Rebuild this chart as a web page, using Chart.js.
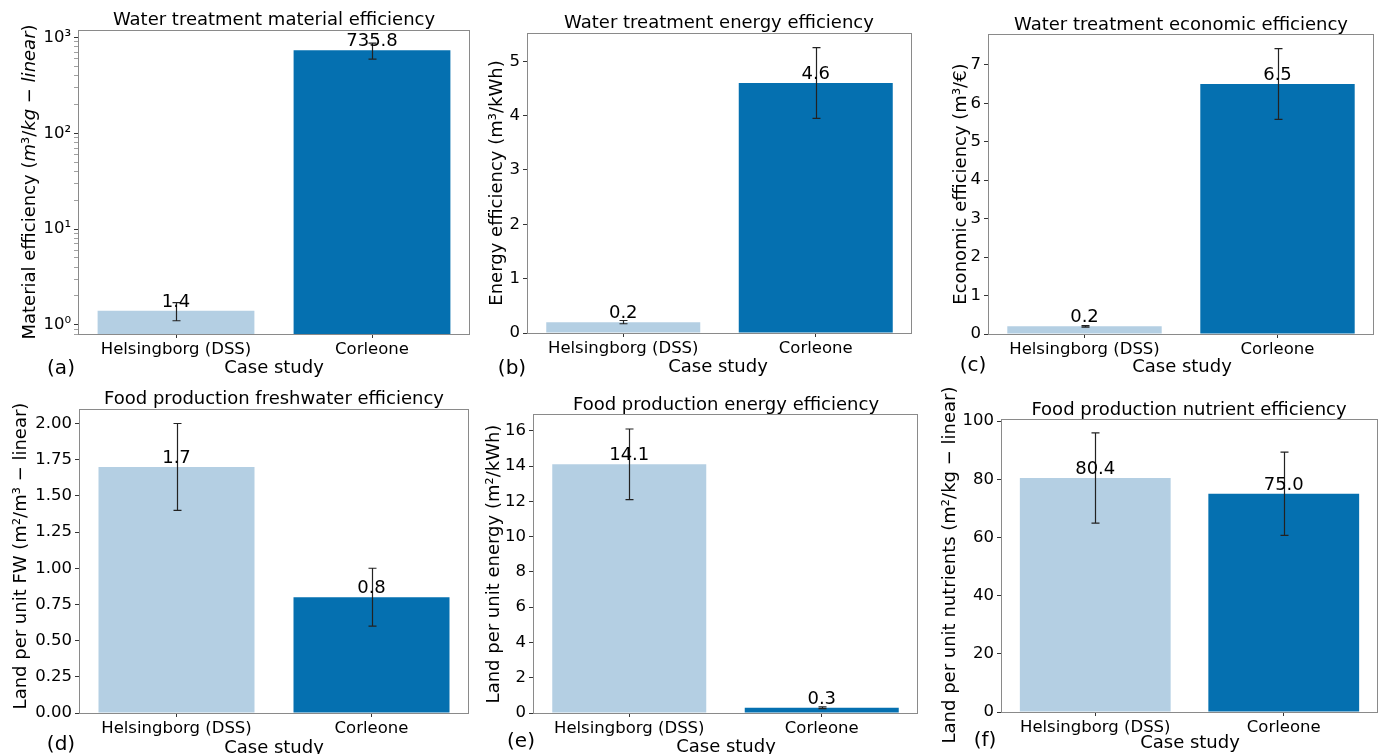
<!DOCTYPE html>
<html>
<head>
<meta charset="utf-8">
<script src="https://cdn.jsdelivr.net/npm/chart.js@4.4.1/dist/chart.umd.min.js"></script>
<style>
  html, body { margin: 0; padding: 0; background: #ffffff; }
  body { width: 1386px; height: 754px; position: relative; overflow: hidden; }
  canvas { position: absolute; }
</style>
</head>
<body>
<canvas id="panelA"></canvas>
<canvas id="panelB"></canvas>
<canvas id="panelC"></canvas>
<canvas id="panelD"></canvas>
<canvas id="panelE"></canvas>
<canvas id="panelF"></canvas>
<script>
// ---- data ----
const caseStudies = ['Helsingborg (DSS)', 'Corleone'];

const materialEfficiency = [1.4, 735.8];
const materialError = [0.3, 140];
const materialTicks = [1, 10, 100, 1000];

const energyEfficiency = [0.2, 4.6];
const energyError = [0.03, 0.65];
const energyTicks = [0, 1, 2, 3, 4, 5];

const economicEfficiency = [0.2, 6.5];
const economicError = [0.02, 0.92];
const economicTicks = [0, 1, 2, 3, 4, 5, 6, 7];

const freshwaterLand = [1.7, 0.8];
const freshwaterError = [0.3, 0.2];
const freshwaterTicks = [0, 0.25, 0.5, 0.75, 1.0, 1.25, 1.5, 1.75, 2.0];

const foodEnergyLand = [14.1, 0.3];
const foodEnergyError = [2.0, 0.05];
const foodEnergyTicks = [0, 2, 4, 6, 8, 10, 12, 14, 16];

const nutrientLand = [80.4, 75.0];
const nutrientError = [15.5, 14.3];
const nutrientTicks = [0, 20, 40, 60, 80, 100];

const barColors = ['#b4cfe3', '#0570b0'];
const FONT = "'DejaVu Sans', sans-serif";

// ---- helpers ----
const SUP = { '0': '\u2070', '1': '\u00b9', '2': '\u00b2', '3': '\u00b3' };
function powerLabel(v) {
  const e = Math.round(Math.log10(v));
  return '10' + String(e).split('').map(c => SUP[c]).join('');
}
function isPowerOfTen(v) {
  const e = Math.log10(v);
  return Math.abs(e - Math.round(e)) < 1e-9;
}
// minor ticks of a log axis: 2..9 times each decade inside the range
function logMinorTicks(lo, hi) {
  const out = [];
  for (let d = Math.floor(Math.log10(lo)); d <= Math.ceil(Math.log10(hi)); d++) {
    for (let m = 2; m <= 9; m++) {
      const v = m * Math.pow(10, d);
      if (v >= lo && v <= hi) out.push(v);
    }
  }
  return out;
}

// frame, error bars, value labels, titles and panel letters
const panelDecor = {
  id: 'panelDecor',
  afterDatasetsDraw(chart, args, opts) {
    const ctx = chart.ctx;
    const area = chart.chartArea;
    const ys = chart.scales.y;
    const ox = opts.ox, oy = opts.oy;
    const ds = chart.data.datasets[0];
    const meta = chart.getDatasetMeta(0);

    ctx.save();
    // axes frame
    ctx.strokeStyle = '#8a8a8a';
    ctx.lineWidth = 1;
    ctx.strokeRect(Math.round(area.left) + 0.5, Math.round(area.top) + 0.5,
                   Math.round(area.right - area.left) - 1, Math.round(area.bottom - area.top));

    // error bars
    ctx.strokeStyle = '#222222';
    ctx.lineWidth = 1.2;
    meta.data.forEach((bar, i) => {
      const v = ds.data[i], e = opts.errors[i];
      const yLo = ys.getPixelForValue(v - e);
      const yHi = ys.getPixelForValue(v + e);
      const x = Math.round(bar.x) + 0.5;
      ctx.beginPath();
      ctx.moveTo(x, yLo); ctx.lineTo(x, yHi);
      ctx.moveTo(x - 4, yLo); ctx.lineTo(x + 4, yLo);
      ctx.moveTo(x - 4, yHi); ctx.lineTo(x + 4, yHi);
      ctx.stroke();
    });

    // value labels
    ctx.fillStyle = '#000000';
    ctx.font = '18px ' + FONT;
    ctx.textAlign = 'center';
    ctx.textBaseline = 'alphabetic';
    meta.data.forEach((bar, i) => {
      ctx.fillText(ds.data[i].toFixed(1), bar.x, bar.y - 4);
    });

    // chart title
    ctx.textBaseline = 'middle';
    ctx.font = '18px ' + FONT;
    ctx.fillText(opts.title, opts.titlePos[0] - ox, opts.titlePos[1] - oy);
    // x axis title
    ctx.fillText('Case study', opts.xTitlePos[0] - ox, opts.xTitlePos[1] - oy);
    // panel letter
    ctx.font = '20px ' + FONT;
    ctx.fillText(opts.letter, opts.letterPos[0] - ox, opts.letterPos[1] - oy);

    // rotated y axis title made of styled runs
    ctx.translate(opts.yTitlePos[0] - ox, opts.yTitlePos[1] - oy);
    ctx.rotate(-Math.PI / 2);
    ctx.textAlign = 'left';
    const runs = opts.yTitle.map(r => ({ text: r[0], font: (r[1] ? 'italic ' : '') + '18px ' + FONT }));
    let total = 0;
    runs.forEach(r => { ctx.font = r.font; r.w = ctx.measureText(r.text).width; total += r.w; });
    let x = -total / 2;
    runs.forEach(r => { ctx.font = r.font; ctx.fillText(r.text, x, 0); x += r.w; });
    ctx.restore();
  }
};

function makePanel(id, box, plot, values, errors, yAxis, text) {
  const cv = document.getElementById(id);
  cv.width = box.w; cv.height = box.h;
  cv.style.left = box.x + 'px'; cv.style.top = box.y + 'px';

  const yWidth = plot.L - box.x;
  const xHeight = box.y + box.h - plot.B;

  const yScale = {
    type: yAxis.type,
    min: yAxis.min,
    max: yAxis.max,
    afterBuildTicks: s => { s.ticks = yAxis.ticks.map(v => ({ value: v })); },
    afterFit: s => { s.width = yWidth; },
    border: { display: false },
    grid: {
      drawOnChartArea: false, drawTicks: true, tickLength: 4,
      color: c => (c.tick && yAxis.isMinor && yAxis.isMinor(c.tick.value)) ? '#a0a0a0' : '#333333',
      lineWidth: 1
    },
    ticks: {
      autoSkip: false,
      color: '#000000', padding: 3,
      font: { family: FONT, size: 16.5 },
      callback: yAxis.label
    }
  };

  return new Chart(cv, {
    type: 'bar',
    data: {
      labels: caseStudies,
      datasets: [{
        data: values,
        backgroundColor: barColors,
        borderWidth: 0,
        barPercentage: 0.8,
        categoryPercentage: 1.0
      }]
    },
    options: {
      responsive: false,
      animation: false,
      devicePixelRatio: 1,
      layout: { padding: { left: 0, top: plot.T - box.y, right: box.x + box.w - plot.R, bottom: 0 } },
      plugins: {
        legend: { display: false },
        title: { display: false },
        tooltip: { enabled: false },
        panelDecor: Object.assign({ ox: box.x, oy: box.y, errors: errors }, text)
      },
      scales: {
        x: {
          type: 'category',
          offset: true,
          afterFit: s => { s.height = xHeight; },
          border: { display: false },
          grid: { offset: false, drawOnChartArea: false, drawTicks: true, tickLength: 4, color: '#333333' },
          ticks: { color: '#000000', padding: 2, font: { family: FONT, size: 16.5 }, maxRotation: 0, autoSkip: false }
        },
        y: yScale
      }
    },
    plugins: [panelDecor]
  });
}

// ---- panels ----
const matMinor = logMinorTicks(0.8, 1200);
makePanel('panelA', { x: 0, y: 0, w: 478, h: 382 }, { L: 78, T: 30, R: 470, B: 334 },
  materialEfficiency, materialError,
  {
    type: 'logarithmic', min: 0.8, max: 1200,
    ticks: materialTicks.concat(matMinor).sort((a, b) => a - b),
    isMinor: v => !isPowerOfTen(v),
    label: v => isPowerOfTen(v) ? powerLabel(v) : ''
  },
  {
    title: 'Water treatment material efficiency', titlePos: [274, 20],
    xTitlePos: [274, 368], letter: '(a)', letterPos: [61, 369], yTitlePos: [30, 182],
    yTitle: [['Material efficiency (', false], ['m', true], ['\u00b3/', false], ['kg', true],
             [' \u2212 ', false], ['linear', true], [')', false]]
  });

makePanel('panelB', { x: 470, y: 0, w: 450, h: 382 }, { L: 527, T: 33, R: 912, B: 333 },
  energyEfficiency, energyError,
  { type: 'linear', min: 0, max: 5.52, ticks: energyTicks, label: v => String(v) },
  {
    title: 'Water treatment energy efficiency', titlePos: [719, 23],
    xTitlePos: [718, 367], letter: '(b)', letterPos: [512, 369], yTitlePos: [497, 183],
    yTitle: [['Energy efficiency (m\u00b3/kWh)', false]]
  });

makePanel('panelC', { x: 925, y: 0, w: 461, h: 382 }, { L: 988, T: 34, R: 1374, B: 334 },
  economicEfficiency, economicError,
  { type: 'linear', min: 0, max: 7.8, ticks: economicTicks, label: v => String(v) },
  {
    title: 'Water treatment economic efficiency', titlePos: [1181, 25],
    xTitlePos: [1182, 367], letter: '(c)', letterPos: [973, 366], yTitlePos: [961, 184],
    yTitle: [['Economic efficiency (m\u00b3/\u20ac)', false]]
  });

makePanel('panelD', { x: 0, y: 380, w: 478, h: 374 }, { L: 79, T: 409, R: 469, B: 713 },
  freshwaterLand, freshwaterError,
  { type: 'linear', min: 0, max: 2.1, ticks: freshwaterTicks, label: v => v.toFixed(2) },
  {
    title: 'Food production freshwater efficiency', titlePos: [274, 399],
    xTitlePos: [274, 748], letter: '(d)', letterPos: [61, 745], yTitlePos: [21, 556],
    yTitle: [['Land per unit FW (m\u00b2/m\u00b3 \u2212 linear)', false]]
  });

makePanel('panelE', { x: 470, y: 380, w: 455, h: 374 }, { L: 533, T: 414, R: 918, B: 713 },
  foodEnergyLand, foodEnergyError,
  { type: 'linear', min: 0, max: 16.95, ticks: foodEnergyTicks, label: v => String(v) },
  {
    title: 'Food production energy efficiency', titlePos: [726, 405],
    xTitlePos: [726, 747], letter: '(e)', letterPos: [521, 742], yTitlePos: [494, 564],
    yTitle: [['Land per unit energy (m\u00b2/kWh)', false]]
  });

makePanel('panelF', { x: 925, y: 380, w: 461, h: 374 }, { L: 1001, T: 419, R: 1378, B: 712 },
  nutrientLand, nutrientError,
  { type: 'linear', min: 0, max: 100.7, ticks: nutrientTicks, label: v => String(v) },
  {
    title: 'Food production nutrient efficiency', titlePos: [1189, 410],
    xTitlePos: [1190, 743], letter: '(f)', letterPos: [985, 741], yTitlePos: [950, 565],
    yTitle: [['Land per unit nutrients (m\u00b2/kg \u2212 linear)', false]]
  });
</script>
</body>
</html>
